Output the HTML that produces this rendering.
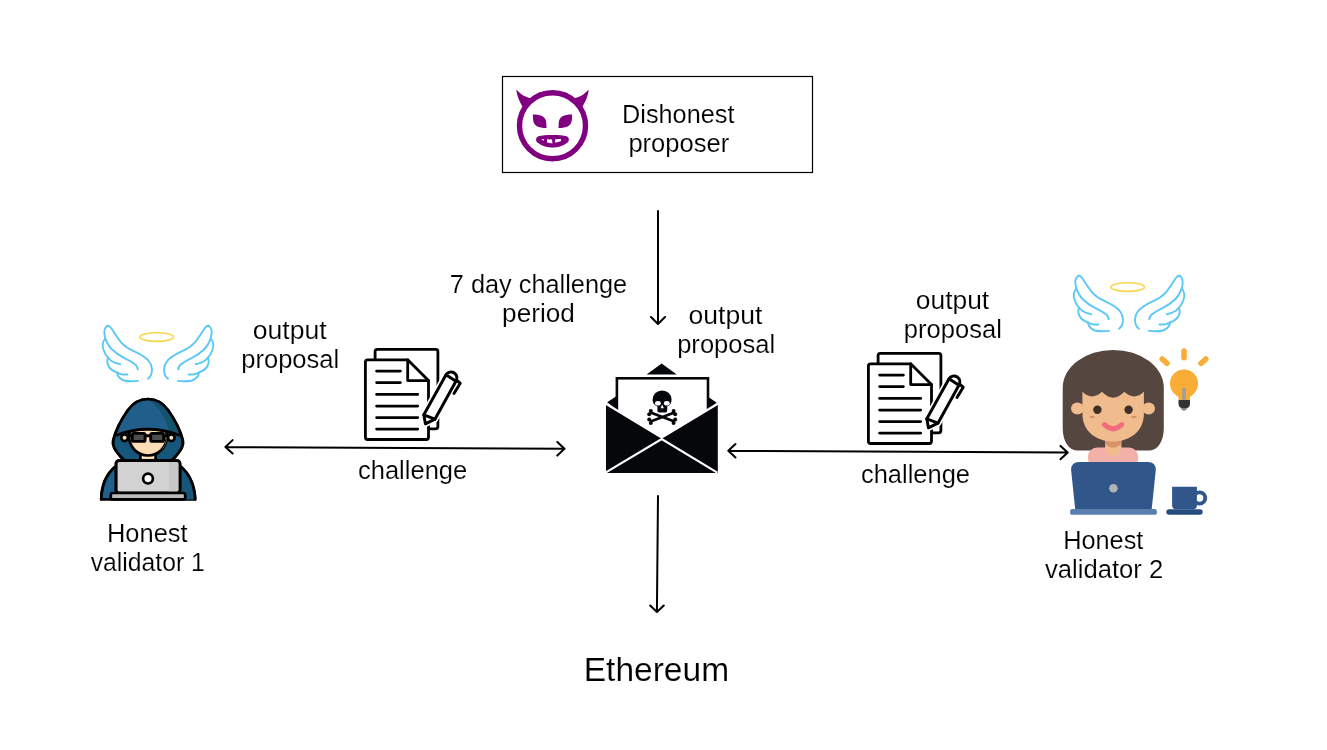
<!DOCTYPE html>
<html><head><meta charset="utf-8">
<style>
html,body{margin:0;padding:0;background:#fff;width:1327px;height:750px;overflow:hidden}
svg{position:absolute;left:0;top:0;display:block;will-change:transform}
text{font-family:"Liberation Sans",sans-serif;fill:#000;stroke:#fff;stroke-width:0.15px;paint-order:fill stroke}
.t{font-size:25.5px}
.e{font-size:34px}
</style></head><body>
<svg width="1327" height="750" viewBox="0 0 1327 750">
<!-- proposer box -->
<rect x="502.5" y="76.5" width="310" height="96" fill="#fff" stroke="#000" stroke-width="1.2"/>

<!-- devil -->
<g fill="#800080">
<circle cx="552.5" cy="125.7" r="33" fill="none" stroke="#800080" stroke-width="5.4"/>
<path d="M516.2 89.5 C522 95.5 526 97.2 530.5 98.3 L533 101 L524.5 108.5 L522.5 106.5 C519.5 102 517 96 516.2 89.5 Z"/>
<path d="M588.8 89.5 C583 95.5 579 97.2 574.5 98.3 L572 101 L580.5 108.5 L582.5 106.5 C585.5 102 588 96 588.8 89.5 Z"/>
<path d="M532.9 114.5 C541 114.5 546 116.5 546.3 123 L546.5 127.9 C538.4 127.9 533.4 125.9 533.1 119.4 Z"/>
<path d="M572.1 114.5 C564 114.5 559 116.5 558.7 123 L558.5 127.9 C566.6 127.9 571.6 125.9 571.9 119.4 Z"/>
<path d="M538.5 136.2 C544 134.6 561 134.6 566.5 136.2 C569.5 137.2 569.5 141 567.5 142.5 C563 146.5 557 147.6 552.5 147.6 C548 147.6 542 146.5 537.5 142.5 C535.5 141 535.5 137.2 538.5 136.2 Z"/>
<g fill="#fff">
<path d="M541.2 139.1 L543.9 139.2 L543.9 141.1 Z"/>
<path d="M547 139.2 L552.1 139.5 L552.4 143.4 L547.1 142.6 Z"/>
<path d="M555.1 139.3 L561 139.1 L560.8 141.2 L555.1 142.8 Z"/>
</g>
</g>

<!-- envelope -->
<g>
<path d="M646.6 374.6 L661.6 363.4 L676.8 374.6 Z" fill="#05070b"/>
<path d="M607.2 402.2 L617 395.8 L617 410 Z" fill="#05070b"/>
<path d="M716.8 402.8 L708 396.8 L708 410 Z" fill="#05070b"/>
<rect x="616.9" y="378.3" width="91.1" height="60" fill="#fff" stroke="#05070b" stroke-width="2.6"/>
<path d="M652.6 399.6 A9.5 9.2 0 1 1 671.6 399.6 C671.6 403.5 669.8 405.6 667.2 406.6 L667.2 410.8 Q667.2 412.6 665.4 412.6 L659.2 412.6 Q657.4 412.6 657.4 410.8 L657.4 406.6 C654.8 405.6 652.6 403.5 652.6 399.6 Z" fill="#05070b"/>
<ellipse cx="657.9" cy="403.2" rx="2.9" ry="2.3" fill="#fff"/>
<ellipse cx="666.8" cy="403.2" rx="2.9" ry="2.3" fill="#fff"/>
<path d="M662.2 404.4 L663.9 408.2 L660.5 408.2 Z" fill="#fff"/>
<g stroke="#05070b" stroke-width="2.8" stroke-linecap="round">
<path d="M651.2 412.8 L673.8 421.2 M651.2 421.2 L673.8 412.8"/>
</g>
<g fill="#05070b">
<circle cx="650.8" cy="410.9" r="2"/><circle cx="649.2" cy="414.2" r="2"/>
<circle cx="649.2" cy="419.6" r="2"/><circle cx="650.8" cy="423.1" r="2"/>
<circle cx="673.6" cy="410.9" r="2"/><circle cx="675.2" cy="414.2" r="2"/>
<circle cx="675.2" cy="419.6" r="2"/><circle cx="673.6" cy="423.1" r="2"/>
</g>
<path d="M606 404.6 L661.7 438.6 L717.8 404.6 L717.8 472.9 L606 472.9 Z" fill="#05070b"/>
<path d="M603 402 L661.7 437.4 L720.6 402" fill="none" stroke="#fff" stroke-width="2.2"/>
<path d="M605.5 472.6 L661.7 439 L717.3 472.6" fill="none" stroke="#fff" stroke-width="2.2"/>
</g>

<!-- document icon -->
<defs>
<g id="doc">
<g fill="#fff" stroke="#000" stroke-width="2.8" stroke-linejoin="round" stroke-linecap="round">
<rect x="375.1" y="349.4" width="62.8" height="79.4" rx="2.2"/>
<path d="M367.6 359.8 L407.7 359.8 L428.5 380.6 L428.5 437.3 Q428.5 439.5 426.3 439.5 L367.6 439.5 Q365.4 439.5 365.4 437.3 L365.4 362 Q365.4 359.8 367.6 359.8 Z"/>
<path d="M407.7 359.8 L407.7 380.6 L428.5 380.6" fill="none"/>
<path d="M376.6 371.1 H400.4 M376.6 382.6 H400.4 M376.6 394.4 H417.7 M376.6 406.1 H417.7 M376.6 417.6 H417.7 M376.6 429.1 H417.7" fill="none"/>
</g>
<g transform="translate(415,365) scale(0.08666)">
<path d="M358 112 L102 575 L120 679 L230 625 L472 188 A68.5 68.5 0 0 0 358 112 Z" fill="#fff" stroke="#fff" stroke-width="75" stroke-linejoin="round"/>
<g fill="none" stroke="#000" stroke-width="34" stroke-linejoin="round" stroke-linecap="round">
<path d="M358 112 L102 575 L120 679 L230 625 L472 188 A68.5 68.5 0 0 0 358 112 Z"/>
<path d="M358 112 L472 188"/>
<path d="M102 575 L230 625"/>
<path d="M490 185 L522 210 L450 328"/>
</g>
</g>
</g>
</defs>
<use href="#doc"/>
<use href="#doc" transform="translate(503,4)"/>

<!-- hacker -->
<g stroke="#000" stroke-width="2.7" stroke-linejoin="round" stroke-linecap="round">
<!-- shoulders -->
<path d="M101.2 499.4 C101.5 485 106 474 116 466 L180 466 C190 474 194.5 485 195.2 499.4 Z" fill="#1f608d"/>
<path d="M148 466 L180 466 C190 474 194.5 485 195.2 499.4 L148 499.4 Z" fill="#15567a" stroke="none"/>
<path d="M101.2 499.4 C101.5 485 106 474 116 466 M180 466 C190 474 194.5 485 195.2 499.4" fill="none"/>
<!-- hood -->
<path d="M147.9 399 C140 399 134 402 128 410 C121 420 115 433 113.2 440 C112 446 115 450 120 456 L124.4 460.6 L171.6 460.6 L176 456 C181 450 184 446 182.8 440 C181 433 175 420 168 410 C162 402 156 399 147.9 399 Z" fill="#15567a"/>
<!-- neck -->
<path d="M140.4 450 L140.4 460.6 L155.6 460.6 L155.6 450 Z" fill="#fcddb5"/>
<!-- ears -->
<circle cx="124.6" cy="437.8" r="3.3" fill="#fcddb5"/>
<circle cx="171.3" cy="437.8" r="3.3" fill="#fcddb5"/>
<!-- face -->
<circle cx="148" cy="436.6" r="18.9" fill="#fcddb5"/>
<path d="M157.5 453.2 A18.9 18.9 0 0 0 166.6 433.5 Q167.5 447 157.5 453.2 Z" fill="#f6c896" stroke="none"/>
<path d="M147.9 400.2 C140 400.2 134 403 128.5 410.5 C123 418 119.5 427 117.1 435 Q147.9 423.5 178.8 435 C176.5 427 173 418 167.5 410.5 C162 403 156 400.2 147.9 400.2 Z" fill="#205f8b" stroke="none"/>
<path d="M147.5 400.2 C158 401.5 163.5 406 167.5 410.5 C173 418 176.5 427 178.8 435 Q175 433.5 169.5 432.2 C167 420 158 404 147.5 400.2 Z" fill="#14526e" stroke="none"/>
<path d="M124.4 460.6 L120 456 C115 450 112 446 113.2 440 C115 433 121 420 128 410 C134 402 140 399 147.9 399 C156 399 162 402 168 410 C175 420 181 433 182.8 440 C184 446 181 450 176 456 L171.6 460.6" fill="none"/>
<path d="M117.1 435 Q147.9 423.5 178.8 435" fill="none" stroke-width="2.9"/>
<!-- glasses -->
<g stroke-width="2.9">
<path d="M128 435.8 L132.1 435.8 M145.1 435.8 L150.7 435.8 M163.8 435.8 L167.8 435.8" fill="none"/>
<rect x="132.3" y="433.4" width="12.8" height="8" rx="1.5" fill="#4d4d4d"/>
<rect x="150.7" y="433.4" width="12.9" height="8" rx="1.5" fill="#4d4d4d"/>
</g>
<!-- laptop -->
<rect x="116" y="460.6" width="64" height="32.4" rx="3" fill="#d2d2d2"/>
<rect x="169" y="462" width="9.8" height="29.8" fill="#c6c7c9" stroke="none"/>
<rect x="116" y="460.6" width="64" height="32.4" rx="3" fill="none"/>
<circle cx="148" cy="478.6" r="4.9" fill="#fff"/>
<rect x="110.8" y="493" width="74.4" height="6.4" rx="2" fill="#b9babd"/>
</g>

<!-- wings -->
<defs>
<g id="angel">
<g id="wingL" fill="none" stroke="#5bc8f5" stroke-width="1.9" stroke-linecap="round" stroke-linejoin="round">
<path d="M107.4 325.8 C104 327.5 103.6 332 105.3 338.6 C102.5 341 102 346 103.6 350 C104.8 353.5 106.5 356 108.2 357.8 C107 360 107 363 108.5 366 C110 369 113 371 116.8 372.3 C117.5 376 119.5 379 124 380.5 C128 381.5 133 381.5 138.1 380.9"/>
<path d="M107.4 325.8 C109 325.5 110.5 327 111.5 328.5 C115 334 118 339 121.5 342.8 C125 346.5 129 349 133.8 351.2 C140 354 146 357 149.5 362 C152.5 366 152.5 372 151 375 C150.2 376.8 149 378 147.9 378.7"/>
<path d="M105.3 338.6 C107 343 109 346.5 111.5 349 C115 352.5 119.5 355.5 124 357.8 C129 360.3 133 362.5 135.8 365 C137 366.3 137.6 368 137.7 369.4"/>
<path d="M108.2 357.8 C109 359 110 360 111.5 361 C114 362.5 117 363.5 120.2 364.2"/>
<path d="M116.8 372.3 C118 373.3 119.5 373.8 121.5 374.2 C123.5 374.5 125.5 374.6 127.4 374.5"/>
</g>
<use href="#wingL" transform="translate(316,0) scale(-1,1)"/>
<ellipse cx="156.7" cy="337.05" rx="16.8" ry="4.35" fill="none" stroke="#fad54b" stroke-width="1.6"/>
</g>
</defs>
<use href="#angel"/>
<use href="#angel" transform="translate(971,-50)"/>

<!-- girl -->
<g>
<path d="M1062.7 428 L1062.7 387.9 A50.55 38 0 0 1 1163.8 387.9 L1163.8 428 C1163.8 441 1158 450.4 1149.4 450.4 L1077 450.4 C1068.5 450.4 1062.7 441 1062.7 428 Z" fill="#554640"/>
<rect x="1087.9" y="447.6" width="50.3" height="20" rx="9" fill="#f2b0a8"/>
<path d="M1105.1 436 L1121.4 436 L1121.4 448 A8.15 8.15 0 0 1 1105.1 448 Z" fill="#f0bc8d"/>
<path d="M1105.1 436 L1121.4 436 L1121.4 443.4 Q1113.25 451.8 1105.1 443.4 Z" fill="#d9916a"/>
<ellipse cx="1077.4" cy="408.6" rx="6.4" ry="6" fill="#f0bc8d"/>
<ellipse cx="1148.6" cy="408.6" rx="6.4" ry="6" fill="#f0bc8d"/>
<path d="M1082.4 391.8 Q1092 401 1102 391.8 Q1113.1 403.6 1124.3 391.8 Q1134.2 401 1143.9 391.8 L1143.9 414 C1143.9 431 1130 441.5 1113.1 441.5 C1096.2 441.5 1082.4 431 1082.4 414 Z" fill="#f0bc8d"/>
<circle cx="1097.4" cy="409.8" r="4.2" fill="#3d3029"/>
<circle cx="1128.6" cy="409.8" r="4.2" fill="#3d3029"/>
<ellipse cx="1092.2" cy="417" rx="2.7" ry="1.25" fill="#d9906a"/>
<ellipse cx="1133.9" cy="417" rx="2.7" ry="1.25" fill="#d9906a"/>
<path d="M1104.3 424.6 Q1113.1 433.2 1121.9 424.6" fill="none" stroke="#f46b7e" stroke-width="4.9" stroke-linecap="round"/>
<path d="M1079.1 462 L1147.8 462 Q1155.8 462 1155.8 470 L1151.7 509.3 L1075.2 509.3 L1071.1 470 Q1071.1 462 1079.1 462 Z" fill="#30568a"/>
<circle cx="1113.4" cy="488.3" r="4.3" fill="#b3b3b3"/>
<rect x="1069.9" y="509" width="87.1" height="5.8" rx="2.9" fill="#5a7fae"/>
<path d="M1172.1 486.8 L1196.9 486.8 L1196.9 505.3 Q1196.9 509.3 1192.9 509.3 L1176.1 509.3 Q1172.1 509.3 1172.1 505.3 Z" fill="#30568a"/>
<circle cx="1199.6" cy="498" r="5.65" fill="none" stroke="#30568a" stroke-width="3.9"/>
<rect x="1166.3" y="509.3" width="36.4" height="5.5" rx="2.75" fill="#254d7e"/>
<path d="M1178.5 400 L1178.5 397 C1172 393 1170 388 1170 383.5 A14 14 0 1 1 1198 383.5 C1198 388 1196 393 1190 397 L1190 400 Z" fill="#f9ac36"/>
<path d="M1184 389.2 L1184 400" stroke="#9e9e9e" stroke-width="3.4" stroke-linecap="round"/>
<path d="M1178.5 400 L1190 400 L1190 403.5 Q1190 408.6 1184.25 408.6 Q1178.5 408.6 1178.5 403.5 Z" fill="#333"/>
<path d="M1181 408 L1187 408 Q1186.5 410.8 1184 410.8 Q1181.5 410.8 1181 408 Z" fill="#888"/>
<g stroke="#f9ac36" stroke-width="5.5" stroke-linecap="round">
<path d="M1184 351 L1184 357.8 M1162.2 359 L1167 363.4 M1205.8 359 L1201 363.4"/>
</g>
</g>

<!-- texts -->
<g class="t" text-anchor="middle">
<text x="678.25" y="122.9" textLength="112.43" lengthAdjust="spacingAndGlyphs">Dishonest</text>
<text x="678.80" y="151.6" textLength="100.82" lengthAdjust="spacingAndGlyphs">proposer</text>
<text x="538.50" y="292.9" textLength="177.43" lengthAdjust="spacingAndGlyphs">7 day challenge</text>
<text x="538.50" y="321.5" textLength="72.76" lengthAdjust="spacingAndGlyphs">period</text>
<text x="725.50" y="323.9" textLength="73.83" lengthAdjust="spacingAndGlyphs">output</text>
<text x="726.20" y="352.7" textLength="98.10" lengthAdjust="spacingAndGlyphs">proposal</text>
<text x="289.68" y="338.9" textLength="73.93" lengthAdjust="spacingAndGlyphs">output</text>
<text x="290.23" y="367.7" textLength="97.99" lengthAdjust="spacingAndGlyphs">proposal</text>
<text x="952.50" y="308.9" textLength="73.42" lengthAdjust="spacingAndGlyphs">output</text>
<text x="952.82" y="337.7" textLength="98.05" lengthAdjust="spacingAndGlyphs">proposal</text>
<text x="412.60" y="478.9" textLength="109.24" lengthAdjust="spacingAndGlyphs">challenge</text>
<text x="915.50" y="482.9" textLength="109.04" lengthAdjust="spacingAndGlyphs">challenge</text>
<text x="147.30" y="541.6" textLength="80.64" lengthAdjust="spacingAndGlyphs">Honest</text>
<text x="147.80" y="571" textLength="114.04" lengthAdjust="spacingAndGlyphs">validator 1</text>
<text x="1103.30" y="548.7" textLength="80.23" lengthAdjust="spacingAndGlyphs">Honest</text>
<text x="1104.10" y="577.8" textLength="118.22" lengthAdjust="spacingAndGlyphs">validator 2</text>
</g>
<text class="e" x="656.40" y="681.1" text-anchor="middle" textLength="145.36" lengthAdjust="spacingAndGlyphs">Ethereum</text>

<!-- arrows -->
<g fill="none" stroke="#000" stroke-width="2" stroke-linecap="round" stroke-linejoin="round">
<path d="M658 211 L658 324 M651 317 L658 324 L665 317"/>
<path d="M658 496 L656.9 612 M650.2 605.5 L656.9 612 L663.8 605.5"/>
<path d="M225.4 447 L564.5 448.8 M232.6 440.1 L225.4 447 L232.6 453.5 M557.3 442 L564.5 448.8 L557.3 455.6"/>
<path d="M728.3 450.8 L1067.7 452.6 M735.5 444.1 L728.3 450.8 L735.5 457.5 M1060.5 445.9 L1067.7 452.6 L1060.5 459.3"/>
</g>

</svg>
</body></html>
